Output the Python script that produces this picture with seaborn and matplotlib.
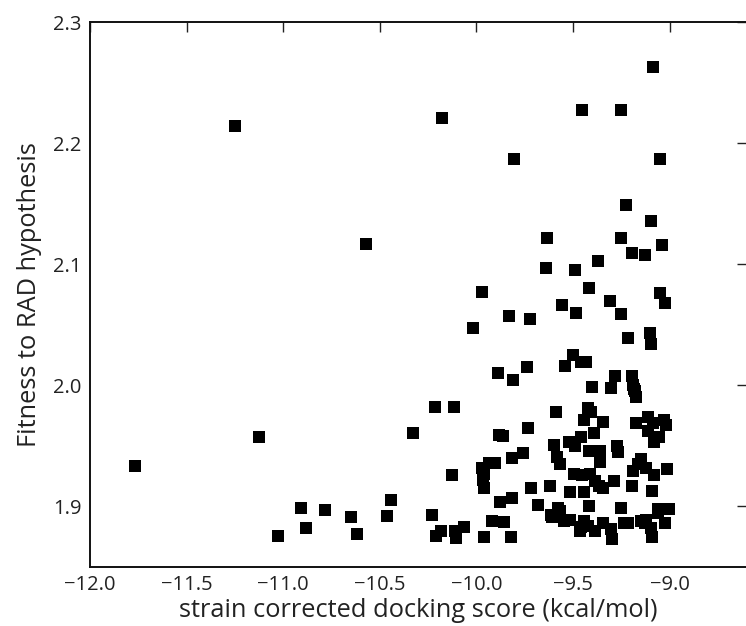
import matplotlib
matplotlib.use("Agg")
import matplotlib.pyplot as plt
import seaborn as sns
import pandas as pd

# Docking score (kcal/mol) and fitness to the RAD hypothesis for each compound
docking_score = [
    -11.769, -11.251, -11.123, -11.028, -10.907, -10.883, -10.785, -10.650, -10.618, -10.571,
    -10.465, -10.441, -10.326, -10.230, -10.213, -10.208, -10.186, -10.176, -10.114, -10.129,
    -10.109, -10.105, -10.063, -10.016, -9.970, -9.962, -9.970, -9.962, -9.965, -9.962,
    -9.933, -9.903, -9.920, -9.888, -9.884, -9.864, -9.876, -9.859, -9.832, -9.810,
    -9.815, -9.817, -9.822, -9.805, -9.761, -9.736, -9.724, -9.731, -9.717, -9.680,
    -9.633, -9.638, -9.618, -9.614, -9.589, -9.599, -9.582, -9.570, -9.577, -9.557,
    -9.541, -9.545, -9.520, -9.515, -9.503, -9.491, -9.483, -9.491, -9.496, -9.515,
    -9.461, -9.456, -9.461, -9.442, -9.461, -9.454, -9.435, -9.442, -9.442, -9.422,
    -9.417, -9.405, -9.417, -9.417, -9.410, -9.400, -9.393, -9.388, -9.388, -9.373,
    -9.363, -9.363, -9.368, -9.343, -9.343, -9.343, -9.311, -9.304, -9.306, -9.299,
    -9.287, -9.282, -9.275, -9.270, -9.253, -9.253, -9.253, -9.253, -9.238, -9.226,
    -9.214, -9.214, -9.197, -9.197, -9.189, -9.179, -9.172, -9.177, -9.189, -9.197,
    -9.165, -9.148, -9.128, -9.146, -9.121, -9.121, -9.114, -9.103, -9.096, -9.096,
    -9.086, -9.114, -9.086, -9.094, -9.091, -9.081, -9.079, -9.054, -9.062, -9.050,
    -9.041, -9.050, -9.025, -9.032, -9.020, -9.012, -9.025, -9.005, -9.041, -9.130,
    -9.465, -9.422, -9.611, -9.568, -9.099, -9.060, -9.184, -9.413,
]
rad_fitness = [
    1.933, 2.214, 1.957, 1.876, 1.899, 1.882, 1.897, 1.891, 1.877, 2.117,
    1.892, 1.905, 1.961, 1.893, 1.982, 1.876, 1.880, 2.221, 1.982, 1.926,
    1.880, 1.874, 1.883, 2.047, 2.077, 1.875, 1.932, 1.927, 1.922, 1.915,
    1.936, 1.936, 1.888, 2.010, 1.959, 1.958, 1.904, 1.887, 2.057, 2.004,
    1.940, 1.907, 1.875, 2.187, 1.944, 2.015, 2.055, 1.965, 1.915, 1.901,
    2.122, 2.097, 1.917, 1.893, 1.978, 1.951, 1.941, 1.935, 1.899, 2.066,
    2.016, 1.888, 1.953, 1.912, 2.025, 2.095, 2.060, 1.950, 1.927, 1.889,
    1.957, 2.227, 2.019, 1.888, 1.883, 1.926, 2.019, 1.971, 1.912, 1.981,
    2.080, 1.978, 1.946, 1.900, 1.927, 1.999, 1.961, 1.921, 1.880, 2.103,
    1.946, 1.937, 1.917, 1.970, 1.915, 1.886, 2.070, 1.998, 1.881, 1.873,
    1.921, 2.008, 1.950, 1.945, 2.227, 2.122, 2.059, 1.899, 1.886, 2.149,
    2.039, 1.886, 2.109, 2.008, 2.000, 1.995, 1.990, 1.969, 1.929, 1.917,
    1.935, 1.939, 2.108, 1.888, 1.889, 1.932, 1.974, 2.043, 2.034, 2.136,
    2.263, 1.962, 1.969, 1.913, 1.875, 1.926, 1.953, 1.957, 1.898, 2.187,
    2.116, 2.076, 2.068, 1.971, 1.967, 1.931, 1.886, 1.898, 1.898, 1.886,
    1.880, 1.884, 1.891, 1.896, 1.882, 1.895, 1.997, 1.978,
]

x_ticks = [-12.0, -11.5, -11.0, -10.5, -10.0, -9.5, -9.0]
y_ticks = [1.9, 2.0, 2.1, 2.2, 2.3]

df = pd.DataFrame({"score": docking_score, "fitness": rad_fitness})

sns.set_style("white", {"xtick.direction": "in", "ytick.direction": "in"})
plt.rcParams["font.family"] = ["Open Sans", "DejaVu Sans"]

fig = plt.figure(figsize=(7.46, 6.26), dpi=100)
ax = fig.add_axes([90 / 746, 59 / 626, 657 / 746, 545 / 626])

sns.scatterplot(data=df, x="score", y="fitness", marker="s", color="black",
                s=72, linewidth=0, ax=ax, zorder=3)

ax.set_xlim(-12.0, -8.6)
ax.set_ylim(1.85, 2.3)
ax.set_xticks(x_ticks)
ax.set_xticklabels([f"{v:.1f}".replace("-", "\u2212") for v in x_ticks])
ax.set_yticks(y_ticks)
ax.set_yticklabels([f"{v:.1f}" for v in y_ticks])

ax.tick_params(axis="both", which="both", direction="in", length=7, width=1,
               top=True, right=True, labelsize=14.5, colors="#222222", pad=6)
ax.tick_params(axis="both", labelcolor="#222222")
for sp in ax.spines.values():
    sp.set_visible(True)
    sp.set_linewidth(1.4)
    sp.set_color("#111111")

ax.set_xlabel("strain corrected docking score (kcal/mol)", fontsize=18.3,
              color="#222222", labelpad=2)
ax.set_ylabel("Fitness to RAD hypothesis", fontsize=18.3, color="#222222",
              labelpad=8)

fig.savefig("out.png", dpi=100, facecolor="white")
